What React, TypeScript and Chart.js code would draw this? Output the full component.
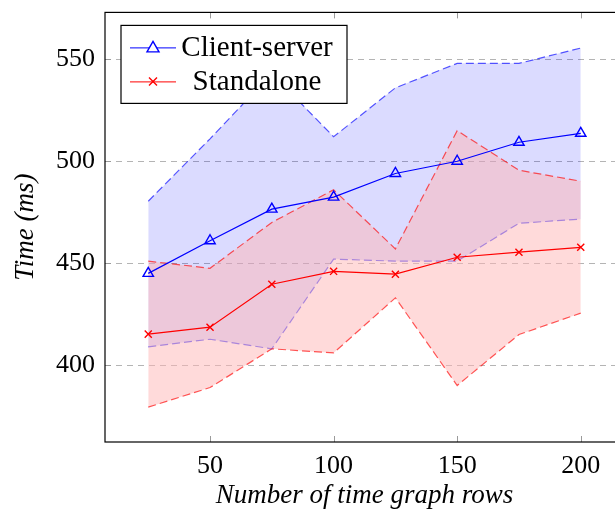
import React, { useEffect, useRef } from "react";
import { Chart, registerables } from "chart.js";

Chart.register(...registerables);

// Number of time graph rows
const rows = [25, 50, 75, 100, 125, 150, 175, 200];

// Client-server timings (ms): mean and min/max envelope
const clientMean = [445, 461, 476.5, 482.4, 494, 500, 509.3, 513.7];
const clientUpper = [480.4, 511, 543, 512, 536, 548, 548, 555.5];
const clientLower = [409, 412.7, 408, 452, 451, 451, 469.6, 471.6];

// Standalone timings (ms): mean and min/max envelope
const standaloneMean = [415.2, 418.6, 439.7, 446, 444.6, 452.9, 455.4, 457.8];
const standaloneUpper = [451, 447.5, 470, 486, 457, 515, 495.6, 490.2];
const standaloneLower = [379.4, 389, 408, 406, 433, 390, 415, 425.5];

const xTicks = [50, 100, 150, 200];
const yTicks = [400, 450, 500, 550];

const legendLabels = ["Client-server", "Standalone"];

const SERIF = "'Liberation Serif', 'DejaVu Serif', serif";

const pts = (ys: number[]) => rows.map((x, i) => ({ x, y: ys[i] }));

const BLUE = "rgb(0,0,255)";
const RED = "rgb(255,0,0)";

const frameAndLegend = {
  id: "frameAndLegend",
  afterDraw(chart: any) {
    const { ctx, chartArea, scales } = chart;
    const { left, right, top, bottom } = chartArea;
    ctx.save();

    // inward tick marks
    ctx.strokeStyle = "#9a9a9a";
    ctx.lineWidth = 1;
    const tl = 6;
    xTicks.forEach((v) => {
      const px = Math.round(scales.x.getPixelForValue(v)) + 0.5;
      ctx.beginPath();
      ctx.moveTo(px, bottom);
      ctx.lineTo(px, bottom - tl);
      ctx.moveTo(px, top);
      ctx.lineTo(px, top + tl);
      ctx.stroke();
    });
    yTicks.forEach((v) => {
      const py = Math.round(scales.y.getPixelForValue(v)) + 0.5;
      ctx.beginPath();
      ctx.moveTo(left, py);
      ctx.lineTo(left + tl, py);
      ctx.moveTo(right, py);
      ctx.lineTo(right - tl, py);
      ctx.stroke();
    });

    // axis frame
    ctx.strokeStyle = "#000";
    ctx.lineWidth = 1.2;
    ctx.strokeRect(left, top, right - left, bottom - top);

    // legend box
    const bx = left + 16;
    const by = top + 13;
    const bw = 226;
    const bh = 78;
    ctx.fillStyle = "#fff";
    ctx.fillRect(bx, by, bw, bh);
    ctx.strokeStyle = "#000";
    ctx.lineWidth = 1.2;
    ctx.strokeRect(bx, by, bw, bh);

    const rowsY = [by + 22, by + 56];
    const colors = [BLUE, RED];
    rowsY.forEach((ry, i) => {
      ctx.strokeStyle = colors[i];
      ctx.lineWidth = 1;
      ctx.beginPath();
      ctx.moveTo(bx + 9, ry + 0.5);
      ctx.lineTo(bx + 55, ry + 0.5);
      ctx.stroke();
      const mx = bx + 32;
      ctx.beginPath();
      ctx.lineWidth = 1.4;
      if (i === 0) {
        ctx.moveTo(mx, ry - 6);
        ctx.lineTo(mx + 6, ry + 4.5);
        ctx.lineTo(mx - 6, ry + 4.5);
        ctx.closePath();
        ctx.fillStyle = "#fff";
        ctx.fill();
      } else {
        ctx.moveTo(mx - 4, ry - 4);
        ctx.lineTo(mx + 4, ry + 4);
        ctx.moveTo(mx - 4, ry + 4);
        ctx.lineTo(mx + 4, ry - 4);
      }
      ctx.stroke();
      ctx.fillStyle = "#000";
      ctx.font = `29px ${SERIF}`;
      ctx.textAlign = "center";
      ctx.textBaseline = "middle";
      ctx.fillText(legendLabels[i], bx + 136, ry + 1);
    });
    ctx.restore();
  },
};

export default function App() {
  const ref = useRef<HTMLCanvasElement | null>(null);

  useEffect(() => {
    if (!ref.current) return;
    const band = (
      ys: number[],
      color: string,
      fill: any,
      bg: string,
      order: number
    ) => ({
      data: pts(ys),
      borderColor: color,
      borderWidth: 1.2,
      borderDash: [8, 4],
      pointRadius: 0,
      fill,
      backgroundColor: bg,
      order,
    });

    const chart = new Chart(ref.current, {
      type: "line",
      data: {
        datasets: [
          {
            label: legendLabels[0],
            data: pts(clientMean),
            borderColor: BLUE,
            borderWidth: 1.2,
            pointStyle: "triangle",
            pointRadius: 6,
            pointBorderWidth: 1.4,
            pointBackgroundColor: "rgba(255,255,255,0)",
            pointBorderColor: BLUE,
            fill: false,
            order: 0,
          },
          {
            label: legendLabels[1],
            data: pts(standaloneMean),
            borderColor: RED,
            borderWidth: 1.2,
            pointStyle: "crossRot",
            pointRadius: 5,
            pointBorderWidth: 1.4,
            pointBorderColor: RED,
            fill: false,
            order: 1,
          },
          band(clientUpper, "rgba(0,0,255,0.65)", "+1", "rgba(0,0,255,0.14)", 5),
          band(clientLower, "rgba(0,0,255,0.65)", false, "transparent", 4),
          band(standaloneUpper, "rgba(255,0,0,0.65)", "+1", "rgba(255,181,181,0.5)", 3),
          band(standaloneLower, "rgba(255,0,0,0.65)", false, "transparent", 2),
        ],
      },
      options: {
        animation: false,
        responsive: false,
        maintainAspectRatio: false,
        layout: { padding: { top: 1, right: 24, left: 0, bottom: 0 } },
        plugins: {
          legend: { display: false },
          tooltip: { enabled: false },
        },
        scales: {
          x: {
            type: "linear",
            min: 7.5,
            max: 217.5,
            afterBuildTicks: (s: any) => {
              s.ticks = xTicks.map((v) => ({ value: v }));
            },
            afterFit: (s: any) => {
              s.height = 71;
              s.paddingLeft = 0;
              s.paddingRight = 0;
            },
            grid: { display: false, drawTicks: false },
            border: { display: false },
            ticks: {
              color: "#000",
              padding: 9,
              font: { family: SERIF, size: 26, lineHeight: 1.2 },
            },
            title: {
              display: true,
              text: "Number of time graph rows",
              color: "#000",
              font: { family: SERIF, size: 27, style: "italic", lineHeight: 1.2 },
              padding: { top: 0, bottom: 1 },
            },
          },
          y: {
            type: "linear",
            min: 362.3,
            max: 573,
            afterBuildTicks: (s: any) => {
              s.ticks = yTicks.map((v) => ({ value: v }));
            },
            afterFit: (s: any) => {
              s.width = 97;
              s.paddingTop = 0;
              s.paddingBottom = 0;
            },
            grid: {
              color: "#b4b4b4",
              lineWidth: 1,
              drawTicks: false,
            },
            border: { display: false, dash: [6, 5] },
            ticks: {
              color: "#000",
              padding: 10,
              font: { family: SERIF, size: 26, lineHeight: 1.2 },
            },
            title: {
              display: true,
              text: "Time (ms)",
              color: "#000",
              font: { family: SERIF, size: 27, style: "italic", lineHeight: 1.2 },
              padding: { top: 2, bottom: 0 },
            },
          },
        },
      },
      plugins: [frameAndLegend],
    } as any);
    return () => chart.destroy();
  }, []);

  return (
    <div
      style={{
        position: "absolute",
        left: 0,
        top: 0,
        width: 615,
        height: 513,
        overflow: "hidden",
      }}
    >
      <canvas
        ref={ref}
        width={640}
        height={508}
        style={{ position: "absolute", left: 8, top: 5, display: "block" }}
      />
    </div>
  );
}
